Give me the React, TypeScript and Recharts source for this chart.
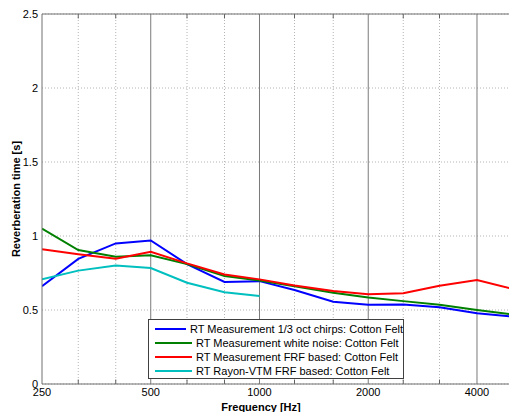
import React from 'react';
import { LineChart, Line, XAxis, YAxis, CartesianGrid, ReferenceLine } from 'recharts';

const freqs = [250, 315, 400, 500, 630, 800, 1000, 1250, 1600, 2000, 2500, 3150, 4000, 5000];
const chirps = [0.66, 0.845, 0.95, 0.97, 0.81, 0.69, 0.695, 0.635, 0.556, 0.535, 0.537, 0.518, 0.478, 0.455];
const whiteNoise = [1.05, 0.905, 0.86, 0.87, 0.81, 0.73, 0.70, 0.66, 0.617, 0.585, 0.56, 0.536, 0.50, 0.47];
const frfBased = [0.91, 0.876, 0.846, 0.894, 0.815, 0.74, 0.707, 0.665, 0.628, 0.606, 0.613, 0.664, 0.703, 0.644];
const rayonVtm = [0.707, 0.766, 0.80, 0.784, 0.684, 0.62, 0.595];

const xTicks = [250, 500, 1000, 2000, 4000];
const minorFreqs = [315, 400, 630, 800, 1250, 1600, 2500, 3150];
const octaveFreqs = [500, 1000, 2000, 4000];
const yTicks = [0, 0.5, 1, 1.5, 2, 2.5];

const seriesNames = [
  'RT Measurement 1/3 oct chirps: Cotton Felt',
  'RT Measurement white noise: Cotton Felt',
  'RT Measurement FRF based: Cotton Felt',
  'RT Rayon-VTM FRF based: Cotton Felt',
];
const colors = ['#0000ff', '#008000', '#ff0000', '#00bfbf'];

const data = freqs.map((f, i) => ({
  f,
  chirps: chirps[i],
  white: whiteNoise[i],
  frf: frfBased[i],
  rayon: i < rayonVtm.length ? rayonVtm[i] : null,
}));

const font = 'Liberation Sans, Arial, sans-serif';

function LegendBox() {
  return (
    <div
      style={{
        position: 'absolute',
        left: 148,
        top: 319,
        width: 256,
        height: 60,
        boxSizing: 'border-box',
        border: '1px solid #404040',
        background: '#fff',
        padding: '2px 0 0 0',
        fontFamily: font,
        fontSize: 11,
        color: '#000',
        whiteSpace: 'nowrap',
      }}
    >
      {seriesNames.map((n, i) => (
        <div key={n} style={{ display: 'flex', alignItems: 'center', height: 14 }}>
          <div style={{ width: 37, height: 2, background: colors[i], marginLeft: 6, marginRight: 4 }} />
          <span>{n}</span>
        </div>
      ))}
    </div>
  );
}

export default function App() {
  return (
    <div style={{ position: 'absolute', left: 0, top: 0, width: 509, height: 412, overflow: 'hidden', background: '#fff' }}>
      <LineChart
        width={512}
        height={412}
        data={data}
        margin={{ top: 14, right: 0, bottom: 0, left: 0 }}
        style={{ fontFamily: font }}
      >
        <CartesianGrid vertical={false} stroke="#b4b4b4" strokeDasharray="1 2" />
        {minorFreqs.map((f) => (
          <ReferenceLine key={'m' + f} x={f} stroke="#b4b4b4" strokeDasharray="1 2" />
        ))}
        {octaveFreqs.map((f) => (
          <ReferenceLine key={'o' + f} x={f} stroke="#7a7a7a" />
        ))}
        {minorFreqs.map((f) => (
          <ReferenceLine
            key={'tb' + f}
            segment={[{ x: f, y: 0 }, { x: f, y: 0.03 }]}
            stroke="#606060"
          />
        ))}
        {minorFreqs.map((f) => (
          <ReferenceLine
            key={'tt' + f}
            segment={[{ x: f, y: 2.47 }, { x: f, y: 2.5 }]}
            stroke="#606060"
          />
        ))}
        <ReferenceLine y={2.5} stroke="#707070" />
        <XAxis
          dataKey="f"
          type="number"
          scale="log"
          domain={[250, 5000]}
          ticks={xTicks}
          allowDataOverflow
          height={28}
          stroke="#707070"
          tickLine={false}
          tickSize={2}
          tick={{ fill: '#000', fontSize: 11, fontFamily: font }}
        />
        <YAxis
          type="number"
          domain={[0, 2.5]}
          ticks={yTicks}
          width={42}
          stroke="#707070"
          tickLine={false}
          tickSize={0}
          tickMargin={4}
          tick={{ fill: '#000', fontSize: 11, fontFamily: font }}
          label={{
            value: 'Reverberation time [s]',
            angle: -90,
            position: 'center',
            dx: -5,
            style: { textAnchor: 'middle', fontWeight: 'bold', fontSize: 11, fill: '#000', fontFamily: font },
          }}
        />
        <Line dataKey="chirps" name={seriesNames[0]} stroke={colors[0]} strokeWidth={2} dot={false} isAnimationActive={false} />
        <Line dataKey="white" name={seriesNames[1]} stroke={colors[1]} strokeWidth={2} dot={false} isAnimationActive={false} />
        <Line dataKey="frf" name={seriesNames[2]} stroke={colors[2]} strokeWidth={2} dot={false} isAnimationActive={false} />
        <Line dataKey="rayon" name={seriesNames[3]} stroke={colors[3]} strokeWidth={2} dot={false} isAnimationActive={false} />
      </LineChart>
      <LegendBox />
      <div
        style={{
          position: 'absolute',
          left: 0,
          width: 522,
          top: 401,
          textAlign: 'center',
          fontFamily: font,
          fontSize: 11,
          fontWeight: 'bold',
          lineHeight: '12px',
          color: '#000',
        }}
      >
        Frequency [Hz]
      </div>
    </div>
  );
}
